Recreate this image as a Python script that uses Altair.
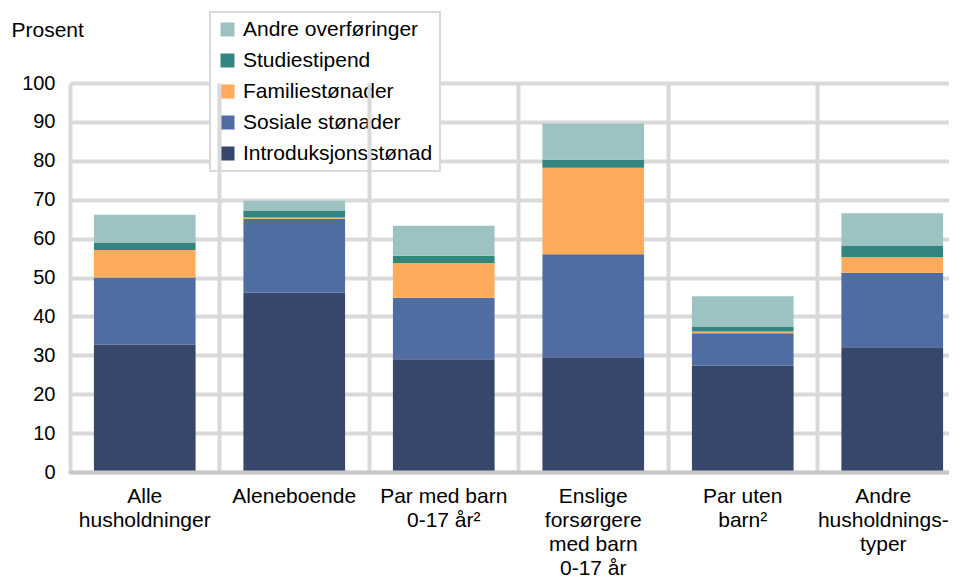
import altair as alt
import pandas as pd

categories = [
    "Alle|husholdninger",
    "Aleneboende",
    "Par med barn|0-17 år²",
    "Enslige|forsørgere|med barn|0-17 år",
    "Par uten|barn²",
    "Andre|husholdnings-|typer",
]
series = [
    "Introduksjonsstønad",
    "Sosiale stønader",
    "Familiestønader",
    "Studiestipend",
    "Andre overføringer",
]
introduksjonsstonad = [32.7, 46.1, 29.0, 29.5, 27.3, 32.1]
sosiale_stonader = [17.3, 19.0, 15.8, 26.5, 8.4, 19.1]
familiestonader = [7.1, 0.3, 8.9, 22.2, 0.4, 4.0]
studiestipend = [1.9, 1.8, 1.9, 2.1, 1.3, 3.0]
andre_overforinger = [7.1, 2.5, 7.7, 9.3, 7.8, 8.3]
colors = ["#36476b", "#4f6ca3", "#ffab5b", "#338580", "#9cc3c1"]

values = [introduksjonsstonad, sosiale_stonader, familiestonader, studiestipend, andre_overforinger]

rows = []
for si, (name, vals) in enumerate(zip(series, values)):
    for c, v in zip(categories, vals):
        rows.append({"kategori": c, "type": name, "verdi": v, "rekke": si})
df = pd.DataFrame(rows)

legend_order = list(reversed(series))
legend_colors = list(reversed(colors))

FONT = "Liberation Sans"
last_cat = categories[-1]

chart = (
    alt.Chart(df)
    .mark_bar(width=alt.RelativeBandSize(0.68))
    .encode(
        x=alt.X(
            "kategori:N",
            sort=categories,
            scale=alt.Scale(paddingInner=0, paddingOuter=0),
            axis=alt.Axis(
                title=None,
                labelAngle=0,
                labelExpr="split(datum.label, '|')",
                labelFontSize=21,
                labelLineHeight=24,
                labelBaseline="top",
                labelPadding=13,
                labelAlign="center",
                labelOffset={
                    "condition": {"test": f"datum.value == '{last_cat}'", "value": -9},
                    "value": 0,
                },
                labelColor="#000000",
                labelFont=FONT,
                labelLimit=250,
                labelBound=False,
                ticks=False,
                grid=True,
                gridColor="#d9d9d9",
                gridWidth=4,
                bandPosition=0,
                domainColor="#c8c8c8",
                domainWidth=4,
                domainCap="round",
                zindex=1,
            ),
        ),
        y=alt.Y(
            "verdi:Q",
            stack="zero",
            scale=alt.Scale(domain=[0, 100], nice=False),
            axis=alt.Axis(
                values=list(range(0, 101, 10)),
                title="Prosent",
                titleAngle=0,
                titleX=-59,
                titleY=-53,
                titleAlign="left",
                titleBaseline="middle",
                titleFontSize=21,
                titleFontWeight="normal",
                titleFont=FONT,
                titleColor="#000000",
                labelFontSize=20,
                labelFont=FONT,
                labelColor="#000000",
                labelPadding=15,
                ticks=False,
                domain=False,
                gridColor="#d9d9d9",
                gridWidth=4,
            ),
        ),
        color=alt.Color(
            "type:N",
            scale=alt.Scale(domain=legend_order, range=legend_colors),
            legend=alt.Legend(
                title=None,
                orient="none",
                legendX=140,
                legendY=-71,
                direction="vertical",
                symbolType="square",
                symbolSize=196,
                symbolStrokeWidth=0,
                labelFontSize=21,
                labelFont=FONT,
                labelColor="#000000",
                labelOffset=5,
                labelLimit=300,
                rowPadding=9,
                padding=7,
                strokeColor="#d9d9d9",
                fillColor="#ffffff",
            ),
        ),
        order=alt.Order("rekke:Q", sort="ascending"),
    )
    .properties(
        width=897,
        height=389,
        autosize=alt.AutoSizeParams(type="none"),
        padding={"left": 62, "top": 75, "right": -18, "bottom": 105},
    )
    .configure_view(stroke=None)
    .configure_legend(strokeWidth=2)
)

chart.save("out.html", embed_options={"renderer": "svg", "actions": False})
